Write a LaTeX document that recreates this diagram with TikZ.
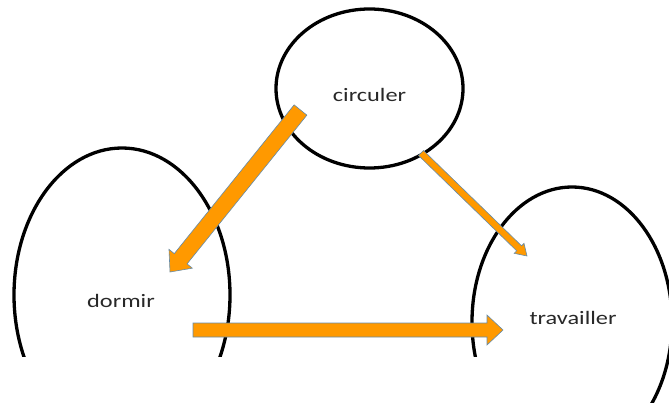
\documentclass[tikz,border=0pt]{standalone}
\usepackage{fontspec}
\setmainfont{Carlito}
\usetikzlibrary{calc,shapes.geometric}
\definecolor{arrowfill}{RGB}{255,153,0}
\definecolor{arrowline}{RGB}{100,140,172}
\definecolor{labeltext}{RGB}{40,40,40}
\newcommand\blockarrow[5]{%
  \coordinate (ba-h) at ($(#2)!#5!(#1)$);
  \filldraw[fill=arrowfill,draw=arrowline,line width=0.6pt,line join=miter]
    ($(#1)!#3!90:(#2)$) -- ($(ba-h)!#3!90:(#2)$) -- ($(ba-h)!#4!90:(#2)$) --
    (#2) -- ($(ba-h)!#4!-90:(#2)$) -- ($(ba-h)!#3!-90:(#2)$) --
    ($(#1)!#3!-90:(#2)$) -- cycle;}
\tikzset{
  blob/.style={draw=black,line width=3.3pt,ellipse,inner sep=0pt},
  lbl/.style={anchor=base,text=labeltext,font=\fontsize{19}{22}\selectfont,inner sep=0pt}
}
\newcommand\wide[1]{\scalebox{1.28}[1]{#1}}
\begin{document}
\begin{tikzpicture}[x=1pt,y=-1pt]
\useasboundingbox (0,0) rectangle (669,403);
% ellipses
\node[blob,minimum width=187pt,minimum height=159pt] (circ) at (369.5,88.5) {};
\node[blob,minimum width=216pt,minimum height=294pt] (dorm) at (122,295) {};
\node[blob,minimum width=200pt,minimum height=270pt] (trav) at (572,322) {};
% white cover
\fill[white] (-2,357) rectangle (620,405);
% arrow end points
\coordinate (c1) at (300.5,110);
\coordinate (d1) at (170,272);
\coordinate (c2) at (421,153);
\coordinate (t2) at (527,256);
\coordinate (d3) at (193,330);
\coordinate (t3) at (503,330);
\blockarrow{c1}{d1}{8.2pt}{15pt}{17pt}
\blockarrow{c2}{t2}{3.5pt}{7pt}{11pt}
\blockarrow{d3}{t3}{7pt}{15pt}{16pt}
% labels
\node[lbl] (lc) at (369.5,101.7) {\wide{circuler}};
\node[lbl] (ld) at (121,307.3) {\wide{dormir}};
\node[lbl] (lt) at (573,324) {\wide{travailler}};
\end{tikzpicture}
\end{document}
